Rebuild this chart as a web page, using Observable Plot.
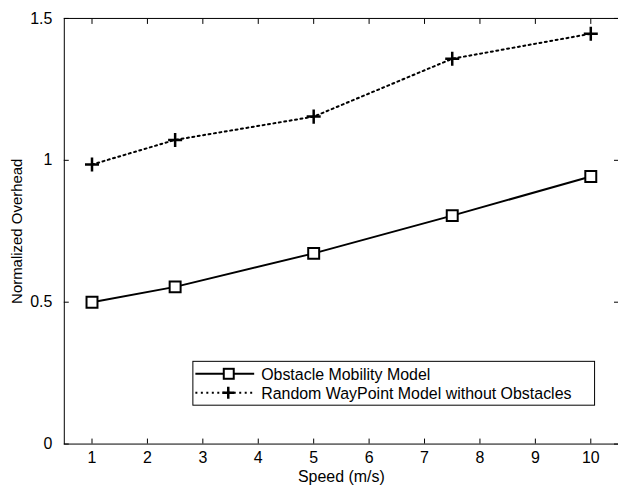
<!DOCTYPE html>
<html>
<head>
<meta charset="utf-8">
<script src="https://cdn.jsdelivr.net/npm/d3@7"></script>
<script src="https://cdn.jsdelivr.net/npm/@observablehq/plot@0.6"></script>
<style>
  html, body { margin: 0; padding: 0; background: #fff; overflow: hidden; }
  #chart { position: relative; width: 618px; height: 489px; overflow: hidden; }
</style>
</head>
<body>
<div id="chart"></div>
<script>
const speeds = [1, 2.5, 5, 7.5, 10];
const obstacleValues = [0.50, 0.554, 0.672, 0.805, 0.943];
const randomValues = [0.985, 1.072, 1.154, 1.358, 1.446];
const seriesNames = ["Obstacle Mobility Model", "Random WayPoint Model without Obstacles"];
const xTicks = [1, 2, 3, 4, 5, 6, 7, 8, 9, 10];
const yTicks = [0, 0.5, 1, 1.5];
const yTickLabels = ["0", "0.5", "1", "1.5"];
const xLabel = "Speed (m/s)";
const yLabel = "Normalized Overhead";

const obstacle = speeds.map((s, i) => ({speed: s, value: obstacleValues[i]}));
const random = speeds.map((s, i) => ({speed: s, value: randomValues[i]}));

const font = "'Liberation Sans', Arial, sans-serif";

const plot = Plot.plot({
  width: 620,
  height: 489,
  marginLeft: 64,
  marginRight: 0,
  marginTop: 18,
  marginBottom: 44,
  style: {fontFamily: font, fontSize: "16px", color: "#000", background: "#fff"},
  x: {domain: [0.5, 10.5]},
  y: {domain: [0, 1.5]},
  marks: [
    Plot.frame({stroke: "#000", strokeWidth: 1}),
    Plot.axisX(xTicks, {anchor: "bottom", tickSize: -5, tickPadding: 13, tickFormat: d => String(d),
      label: null, fontSize: 16}),
    Plot.axisX(xTicks, {anchor: "top", tickSize: -5, tickFormat: () => "", label: null}),
    Plot.axisY(yTicks, {anchor: "left", tickSize: -5, tickPadding: 17,
      tickFormat: d => yTickLabels[yTicks.indexOf(d)], label: null, fontSize: 16}),
    Plot.axisY(yTicks, {anchor: "right", tickSize: -5, tickFormat: () => "", label: null}),
    Plot.text([xLabel], {frameAnchor: "bottom", dy: 38, fontSize: 16, fill: "#000"}),
    Plot.text([yLabel], {frameAnchor: "left", textAnchor: "middle", rotate: -90, dx: -47, fontSize: 15, fill: "#000"}),
    Plot.line(random, {x: "speed", y: "value", stroke: "#000", strokeWidth: 2, strokeDasharray: "2,3.5"}),
    Plot.line(obstacle, {x: "speed", y: "value", stroke: "#000", strokeWidth: 2}),
    Plot.dot(random, {x: "speed", y: "value", symbol: "plus", r: 4.6, stroke: "#000", strokeWidth: 2.5}),
    Plot.dot(obstacle, {x: "speed", y: "value", symbol: "square", r: 6.2, fill: "#fff", stroke: "#000", strokeWidth: 2})
  ]
});

document.getElementById("chart").appendChild(plot);

// Legend inside the axes (MATLAB style)
const svg = d3.select(plot);
const lg = svg.append("g").attr("font-family", font).attr("font-size", 16).attr("text-anchor", "start");
lg.append("rect").attr("x", 193.5).attr("y", 362.5).attr("width", 403).attr("height", 44)
  .attr("fill", "#fff").attr("stroke", "#000").attr("stroke-width", 1);
const rows = [
  {y: 375, dash: null, sym: "square"},
  {y: 394, dash: "2,3.5", sym: "plus"}
];
rows.forEach((r, i) => {
  lg.append("line").attr("x1", 196).attr("x2", 255).attr("y1", r.y).attr("y2", r.y)
    .attr("stroke", "#000").attr("stroke-width", 2).attr("stroke-dasharray", r.dash);
  if (r.sym === "square") {
    lg.append("rect").attr("x", 224.5).attr("y", r.y - 5).attr("width", 10).attr("height", 10)
      .attr("fill", "#fff").attr("stroke", "#000").attr("stroke-width", 2);
  } else {
    lg.append("path").attr("d", `M223,${r.y}H235M229,${r.y - 6}V${r.y + 6}`)
      .attr("stroke", "#000").attr("stroke-width", 2.5);
  }
  lg.append("text").attr("x", 262).attr("y", r.y + 6).attr("fill", "#000").text(seriesNames[i]);
});
</script>
</body>
</html>
